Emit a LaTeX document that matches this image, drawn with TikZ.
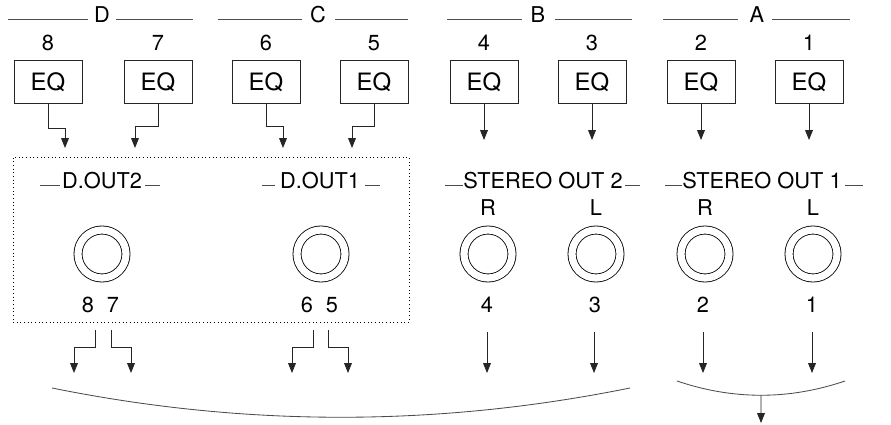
\documentclass[tikz,border=0pt]{standalone}
\usepackage{fontspec}
\setmainfont{TeX Gyre Heros}
\usetikzlibrary{arrows.meta}
\begin{document}
\begin{tikzpicture}[x=0.025cm, y=-0.025cm, >={Triangle[length=7pt,width=5.5pt]},
    eq/.style={draw, line width=0.6pt, black!85, text=black, minimum width=1.7cm, minimum height=1.075cm, inner sep=0pt, font=\fontsize{17}{17}\selectfont},
    num/.style={inner sep=0pt, font=\fontsize{15.5}{15.5}\selectfont},
    jack/.style={circle, draw, double, double distance=0.18cm, line width=0.6pt, minimum size=1.2cm, inner sep=0pt},
    wire/.style={->, line width=0.6pt, black!85},
    rule/.style={line width=0.5pt, black!70}]
    \useasboundingbox (0,0) rectangle (891,425);

    \node[num] (hD) at (102,15) {D}; \node[num] (hC) at (318,15) {C};
    \node[num] (hB) at (538,15) {B}; \node[num] (hA) at (757,15) {A};
    \draw[rule] (8,19) -- (88,19); \draw[rule] (116,19) -- (193,19);
    \draw[rule] (218,19) -- (302,19); \draw[rule] (335,19) -- (408,19);
    \draw[rule] (447,19) -- (522,19); \draw[rule] (555,19) -- (632,19);
    \draw[rule] (663,19) -- (738,19); \draw[rule] (772,19) -- (850,19);

    \node[num] (t8) at (48,43) {8}; \node[num] (t7) at (158,43) {7};
    \node[num] (t6) at (266,43) {6}; \node[num] (t5) at (374,43) {5};
    \node[num] (t4) at (484,43) {4}; \node[num] (t3) at (592,43) {3};
    \node[num] (t2) at (701,43) {2}; \node[num] (t1) at (809,43) {1};

    \node[eq] (eq8) at (48,82) {EQ}; \node[eq] (eq7) at (158,82) {EQ};
    \node[eq] (eq6) at (266,82) {EQ}; \node[eq] (eq5) at (374,82) {EQ};
    \node[eq] (eq4) at (484,82) {EQ}; \node[eq] (eq3) at (592,82) {EQ};
    \node[eq] (eq2) at (701,82) {EQ}; \node[eq] (eq1) at (809,82) {EQ};

    \node[draw, dotted, line width=0.6pt, minimum width=9.9cm, minimum height=4.125cm, inner sep=0pt] (dbox) at (211,239.5) {};

    \coordinate (in8) at (65,148); \coordinate (in7) at (135,148);
    \coordinate (in6) at (283,148); \coordinate (in5) at (352,148);
    \coordinate (in4) at (484,140); \coordinate (in3) at (592,140);
    \coordinate (in2) at (701,140); \coordinate (in1) at (809,140);

    \draw[wire] (eq8.south) -- ++(0,24) -| (in8); \draw[wire] (eq7.south) -- ++(0,22) -| (in7);
    \draw[wire] (eq6.south) -- ++(0,22) -| (in6); \draw[wire] (eq5.south) -- ++(0,22) -| (in5);
    \draw[wire] (eq4.south) -- (in4); \draw[wire] (eq3.south) -- (in3);
    \draw[wire] (eq2.south) -- (in2); \draw[wire] (eq1.south) -- (in1);

    \node[num] (do2) at (102,181) {D.OUT2}; \node[num] (do1) at (320,181) {D.OUT1};
    \node[num] (so2) at (543,181) {STEREO OUT 2}; \node[num] (so1) at (762,181) {STEREO OUT 1};
    \draw[rule] (40,185) -- (60,185); \draw[rule] (145,185) -- (160,185);
    \draw[rule] (262,185) -- (275,185); \draw[rule] (365,185) -- (380,185);
    \draw[rule] (445,185) -- (463,185); \draw[rule] (625,185) -- (640,185);
    \draw[rule] (665,185) -- (682,185); \draw[rule] (845,185) -- (863,185);

    \node[num] (r2) at (488,208) {R}; \node[num] (l2) at (596,208) {L};
    \node[num] (r1) at (705,208) {R}; \node[num] (l1) at (813,208) {L};

    \node[jack] (j87) at (102,254) {}; \node[jack] (j65) at (321,254) {};
    \node[jack] (j4) at (488,254) {}; \node[jack] (j3) at (596,254) {};
    \node[jack] (j2) at (705,254) {}; \node[jack] (j1) at (813,254) {};

    \node[num] (b8) at (88,305) {8}; \node[num] (b7) at (113,305) {7};
    \node[num] (b6) at (307,305) {6}; \node[num] (b5) at (332,305) {5};
    \node[num] (b4) at (487,305) {4}; \node[num] (b3) at (595,305) {3};
    \node[num] (b2) at (703,305) {2}; \node[num] (b1) at (812,305) {1};

    \coordinate (o8) at (95,330); \coordinate (o7) at (111,330);
    \coordinate (o6) at (313,330); \coordinate (o5) at (328,330);
    \coordinate (o4) at (487,332); \coordinate (o3) at (594,332);
    \coordinate (o2) at (703,332); \coordinate (o1) at (812,332);
    \coordinate (p8) at (74,373); \coordinate (p7) at (131,373);
    \coordinate (p6) at (292,373); \coordinate (p5) at (348,373);
    \coordinate (p4) at (487,373); \coordinate (p3) at (594,373);
    \coordinate (p2) at (703,373); \coordinate (p1) at (812,373);

    \draw[wire] (o8) -- ++(0,17) -| (p8); \draw[wire] (o7) -- ++(0,17) -| (p7);
    \draw[wire] (o6) -- ++(0,17) -| (p6); \draw[wire] (o5) -- ++(0,17) -| (p5);
    \draw[wire] (o4) -- (p4); \draw[wire] (o3) -- (p3);
    \draw[wire] (o2) -- (p2); \draw[wire] (o1) -- (p1);

    \draw[rule, line width=0.6pt] (52,388) .. controls (245,427) and (437,427) .. (630,388);
    \draw[rule, line width=0.6pt] (677,381) .. controls (733,400) and (789,400) .. (845,381) coordinate[pos=.5] (mix);
    \coordinate (out) at (761,423);
    \draw[wire] (mix) -- (out);
\end{tikzpicture}
\end{document}
